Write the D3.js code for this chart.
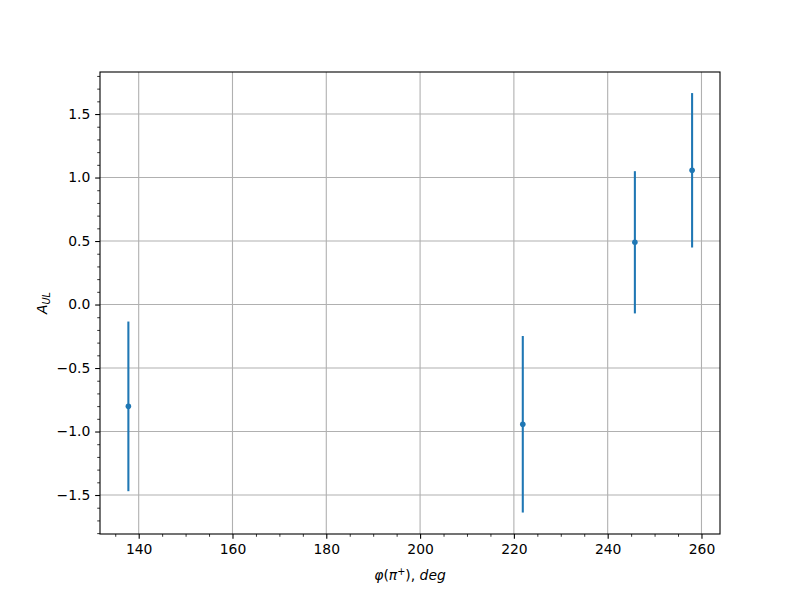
<!DOCTYPE html>
<html>
<head>
<meta charset="utf-8">
<script src="https://cdn.jsdelivr.net/npm/d3@7"></script>
<style>
  body { margin: 0; background: #fff; }
  text { font-family: "DejaVu Sans", sans-serif; }
</style>
</head>
<body>
<svg id="chart" width="800" height="600"></svg>
<script>
// Data
const phiDeg = [137.8, 221.9, 245.8, 258.0];
const aUL    = [-0.802, -0.943, 0.490, 1.057];
const aErr   = [0.668, 0.695, 0.560, 0.608];
const xTicks = [140, 160, 180, 200, 220, 240, 260];
const yTicks = [-1.5, -1.0, -0.5, 0.0, 0.5, 1.0, 1.5];

const W = 800, H = 600;
const m = {left: 100, right: 80, top: 72, bottom: 66};
const iw = W - m.left - m.right, ih = H - m.top - m.bottom;

const svg = d3.select("#chart");
const g = svg.append("g").attr("transform", `translate(${m.left},${m.top})`);

const x = d3.scaleLinear().domain([131.75, 263.95]).range([0, iw]);
const y = d3.scaleLinear().domain([-1.807, 1.831]).range([ih, 0]);

const color = "#1f77b4";

// grid
g.append("g").selectAll("line").data(xTicks).join("line")
  .attr("x1", d => x(d)).attr("x2", d => x(d))
  .attr("y1", 0).attr("y2", ih)
  .attr("stroke", "#b0b0b0").attr("stroke-width", 1.1);
g.append("g").selectAll("line").data(yTicks).join("line")
  .attr("y1", d => y(d)).attr("y2", d => y(d))
  .attr("x1", 0).attr("x2", iw)
  .attr("stroke", "#b0b0b0").attr("stroke-width", 1.1);

// error bars
const data = phiDeg.map((p, i) => ({x: p, y: aUL[i], e: aErr[i]}));
g.append("g").selectAll("line").data(data).join("line")
  .attr("x1", d => x(d.x)).attr("x2", d => x(d.x))
  .attr("y1", d => y(d.y - d.e)).attr("y2", d => y(d.y + d.e))
  .attr("stroke", color).attr("stroke-width", 2.08);
g.append("g").selectAll("circle").data(data).join("circle")
  .attr("cx", d => x(d.x)).attr("cy", d => y(d.y))
  .attr("r", 2.8).attr("fill", color);

// axes
const fmtY = d => d3.format(".1f")(d).replace("-", "\u2212");
const xAxis = d3.axisBottom(x).tickValues(xTicks).tickSize(4.86).tickPadding(4.9).tickFormat(d3.format("d"));
const yAxis = d3.axisLeft(y).tickValues(yTicks).tickSize(4.86).tickPadding(4.9).tickFormat(fmtY);

const xMinor = d3.range(135, 264, 5).filter(v => !xTicks.includes(v));
const yMinor = d3.range(-18, 19, 1).map(v => v / 10).filter(v => !yTicks.some(t => Math.abs(t - v) < 1e-9));

const gxMinor = g.append("g").attr("transform", `translate(0,${ih})`)
  .call(d3.axisBottom(x).tickValues(xMinor).tickSize(2.78).tickFormat(""));
const gyMinor = g.append("g")
  .call(d3.axisLeft(y).tickValues(yMinor).tickSize(2.78).tickFormat(""));
[gxMinor, gyMinor].forEach(a => { a.select(".domain").remove(); a.selectAll("line").attr("stroke", "#000").attr("stroke-width", 0.8); });

const gx = g.append("g").attr("transform", `translate(0,${ih})`).call(xAxis);
const gy = g.append("g").call(yAxis);
[gx, gy].forEach(a => {
  a.select(".domain").remove();
  a.selectAll("line").attr("stroke", "#000").attr("stroke-width", 1.1);
  a.selectAll("text").attr("font-family", "DejaVu Sans").attr("font-size", 13.9).attr("fill", "#000");
});

// spines
g.append("rect").attr("x", 0).attr("y", 0).attr("width", iw).attr("height", ih)
  .attr("fill", "none").attr("stroke", "#000").attr("stroke-width", 1.1);

// x label
const xl = svg.append("text")
  .attr("x", m.left + iw / 2).attr("y", 580)
  .attr("text-anchor", "middle").attr("font-size", 13.9);
xl.append("tspan").attr("font-style", "italic").text("φ");
xl.append("tspan").text("(");
xl.append("tspan").attr("font-style", "italic").text("π");
xl.append("tspan").attr("font-size", 9.7).attr("dy", -5).text("+");
xl.append("tspan").attr("dy", 5).text("), ");
xl.append("tspan").attr("font-style", "italic").text("deg");

// y label
const yl = svg.append("text")
  .attr("transform", `translate(47,${m.top + ih / 2}) rotate(-90)`)
  .attr("text-anchor", "middle").attr("font-size", 13.9);
yl.append("tspan").attr("font-style", "italic").text("A");
yl.append("tspan").attr("font-style", "italic").attr("font-size", 9.7).attr("dy", 3).text("UL");
</script>
</body>
</html>
